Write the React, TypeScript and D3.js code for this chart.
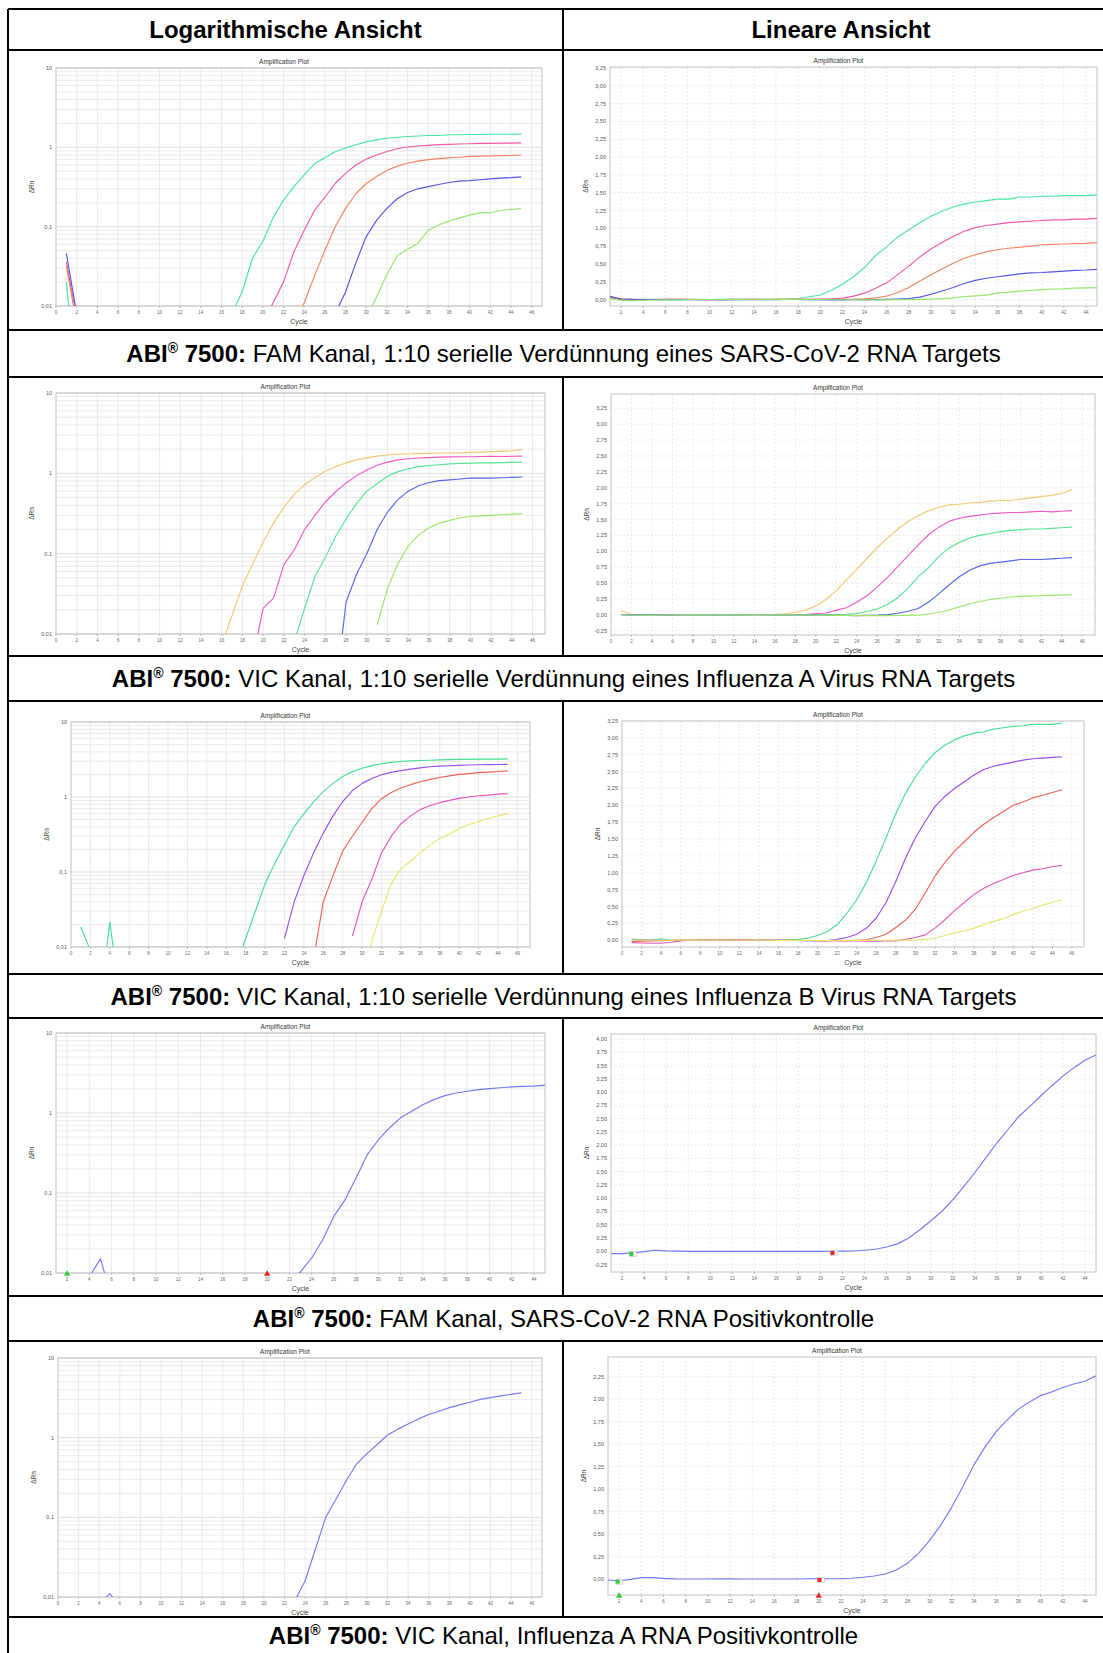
import { useRef, useEffect } from 'react';
import * as d3 from 'd3';

const cycles = [1, 2, 3, 4, 5, 6, 7, 8, 9, 10, 11, 12, 13, 14, 15, 16, 17, 18, 19, 20, 21, 22, 23, 24, 25, 26, 27, 28, 29, 30, 31, 32, 33, 34, 35, 36, 37, 38, 39, 40, 41, 42, 43, 44, 45];

const headers = ['Logarithmische Ansicht', 'Lineare Ansicht'];
const captions = [
  'FAM Kanal, 1:10 serielle Verdünnung eines SARS-CoV-2 RNA Targets',
  'VIC Kanal, 1:10 serielle Verdünnung eines Influenza A Virus RNA Targets',
  'VIC Kanal, 1:10 serielle Verdünnung eines Influenza B Virus RNA Targets',
  'FAM Kanal, SARS-CoV-2 RNA Positivkontrolle',
  'VIC Kanal, Influenza A RNA Positivkontrolle',
];

// SARS-CoV-2 dilution series (FAM), delta Rn per cycle
const sarsMint = [0.02, 0.001, 0.000, 0.001, 0.002, 0.001, 0.000, 0.001, 0.002, 0.001, 0.002, 0.002, 0.003, 0.003, 0.004, 0.005, 0.008, 0.015, 0.04, 0.065, 0.13, 0.215, 0.32, 0.45, 0.62, 0.74, 0.88, 0.98, 1.08, 1.17, 1.24, 1.30, 1.34, 1.37, 1.39, 1.41, 1.41, 1.44, 1.44, 1.45, 1.45, 1.46, 1.46, 1.46, 1.47];
const sarsPink = [0.036, 0.007, 0.002, 0.001, 0.001, 0.002, 0.004, 0.003, 0.001, 0.000, 0.001, 0.002, 0.002, 0.003, 0.002, 0.003, 0.004, 0.005, 0.005, 0.006, 0.011, 0.02, 0.048, 0.09, 0.16, 0.235, 0.35, 0.47, 0.6, 0.71, 0.8, 0.885, 0.96, 1.01, 1.04, 1.06, 1.08, 1.09, 1.10, 1.11, 1.12, 1.12, 1.13, 1.13, 1.14];
const sarsOrange = [0.032, 0.006, 0.002, 0.002, 0.001, 0.002, 0.005, 0.003, 0.000, -0.002, -0.001, 0.000, 0.001, 0.002, 0.001, 0.002, 0.003, 0.003, 0.004, 0.004, 0.005, 0.005, 0.006, 0.011, 0.024, 0.05, 0.1, 0.17, 0.26, 0.35, 0.43, 0.51, 0.58, 0.63, 0.67, 0.70, 0.72, 0.735, 0.75, 0.77, 0.775, 0.78, 0.785, 0.79, 0.80];
const sarsBlue = [0.046, 0.008, 0.002, 0.001, 0.000, -0.001, -0.001, -0.002, -0.002, -0.002, -0.003, -0.002, -0.002, -0.001, -0.001, 0.000, 0.001, 0.001, 0.000, -0.002, -0.003, -0.003, -0.002, -0.002, 0.000, 0.003, 0.008, 0.015, 0.035, 0.075, 0.12, 0.17, 0.225, 0.27, 0.30, 0.32, 0.34, 0.36, 0.375, 0.38, 0.39, 0.40, 0.41, 0.415, 0.425];
const sarsLime = [0.012, -0.012, -0.015, -0.01, -0.006, -0.004, -0.002, 0.000, 0.001, 0.001, 0.000, 0.000, 0.001, 0.001, 0.002, 0.002, 0.002, 0.001, 0.000, -0.001, -0.002, -0.002, -0.002, -0.003, -0.003, -0.003, -0.002, -0.001, 0.002, 0.007, 0.013, 0.025, 0.043, 0.052, 0.062, 0.09, 0.105, 0.118, 0.128, 0.14, 0.149, 0.15, 0.16, 0.165, 0.168];

// Influenza A dilution series (VIC)
const fluAYellow = [0.065, 0.004, 0.002, 0.001, 0.000, 0.000, 0.001, 0.002, 0.001, 0.000, 0.001, 0.001, 0.002, 0.002, 0.004, 0.0075, 0.017, 0.04, 0.075, 0.14, 0.24, 0.38, 0.55, 0.72, 0.89, 1.06, 1.21, 1.35, 1.47, 1.56, 1.64, 1.69, 1.73, 1.74, 1.76, 1.77, 1.79, 1.80, 1.80, 1.82, 1.84, 1.86, 1.88, 1.91, 1.97];
const fluAPink = [0.000, -0.002, -0.003, -0.002, -0.001, 0.000, 0.001, 0.000, -0.001, 0.001, 0.003, 0.004, 0.002, 0.001, 0.000, 0.001, 0.002, 0.003, 0.005, 0.021, 0.028, 0.073, 0.112, 0.2, 0.3, 0.44, 0.59, 0.76, 0.93, 1.1, 1.26, 1.38, 1.47, 1.52, 1.55, 1.57, 1.59, 1.60, 1.61, 1.61, 1.62, 1.63, 1.62, 1.63, 1.64];
const fluAGreen = [0.004, 0.002, 0.001, 0.000, 0.000, 0.001, 0.001, 0.000, -0.001, -0.001, 0.000, 0.000, 0.001, 0.001, 0.000, -0.001, 0.000, 0.001, 0.002, 0.002, 0.003, 0.004, 0.008, 0.021, 0.052, 0.09, 0.165, 0.27, 0.42, 0.6, 0.74, 0.92, 1.05, 1.14, 1.21, 1.25, 1.28, 1.31, 1.33, 1.34, 1.35, 1.35, 1.36, 1.37, 1.38];
const fluABlue = [0.000, -0.002, -0.002, -0.001, -0.001, 0.000, 0.000, 0.001, 0.000, -0.001, -0.001, 0.000, 0.000, 0.001, 0.001, 0.000, -0.002, -0.003, -0.004, -0.005, -0.006, -0.008, -0.010, -0.012, -0.010, -0.006, 0.002, 0.025, 0.055, 0.1, 0.2, 0.33, 0.47, 0.6, 0.7, 0.77, 0.81, 0.83, 0.85, 0.87, 0.87, 0.87, 0.88, 0.89, 0.90];
const fluALime = [0.000, -0.003, -0.004, -0.004, -0.003, -0.002, -0.001, 0.000, 0.000, -0.001, -0.001, -0.002, -0.002, -0.001, 0.000, -0.001, -0.002, -0.003, -0.004, -0.005, -0.006, -0.008, -0.010, -0.012, -0.013, -0.014, -0.013, -0.011, -0.008, -0.004, 0.013, 0.037, 0.075, 0.125, 0.17, 0.21, 0.24, 0.26, 0.28, 0.29, 0.295, 0.30, 0.305, 0.31, 0.315];

// Influenza B dilution series (VIC)
const fluBGreen = [0.0185, 0.009, 0.002, 0.0215, 0.0024, 0.001, 0.002, 0.003, 0.003, 0.002, 0.001, 0.001, 0.002, 0.002, 0.003, 0.004, 0.005, 0.013, 0.03, 0.07, 0.13, 0.23, 0.4, 0.6, 0.86, 1.18, 1.52, 1.88, 2.18, 2.42, 2.62, 2.78, 2.89, 2.97, 3.03, 3.07, 3.09, 3.13, 3.15, 3.17, 3.18, 3.2, 3.2, 3.2, 3.22];
const fluBPurple = [0.004, 0.002, 0.000, -0.002, -0.003, -0.002, -0.001, 0.000, 0.001, 0.001, 0.000, 0.000, 0.001, 0.000, -0.001, -0.002, -0.003, -0.004, -0.005, -0.006, -0.005, 0.013, 0.04, 0.09, 0.18, 0.33, 0.56, 0.87, 1.22, 1.52, 1.76, 1.98, 2.13, 2.25, 2.35, 2.45, 2.53, 2.58, 2.61, 2.64, 2.67, 2.69, 2.7, 2.71, 2.72];
const fluBRed = [-0.02, -0.012, -0.01, -0.006, -0.003, 0.000, 0.001, 0.002, 0.002, 0.001, 0.001, 0.002, 0.001, 0.000, 0.000, -0.001, -0.002, -0.003, -0.004, -0.005, -0.006, -0.007, -0.006, -0.002, 0.007, 0.04, 0.09, 0.19, 0.3, 0.46, 0.7, 0.95, 1.15, 1.32, 1.46, 1.6, 1.72, 1.82, 1.91, 2.0, 2.05, 2.11, 2.15, 2.19, 2.23];
const fluBMagenta = [-0.035, -0.04, -0.045, -0.045, -0.03, -0.01, 0.000, 0.001, 0.001, 0.000, 0.000, 0.001, 0.000, 0.000, 0.000, -0.001, -0.002, -0.004, -0.005, -0.006, -0.007, -0.008, -0.009, -0.01, -0.012, -0.012, -0.011, -0.01, 0.014, 0.04, 0.08, 0.18, 0.3, 0.44, 0.56, 0.68, 0.77, 0.84, 0.9, 0.96, 1.0, 1.04, 1.06, 1.09, 1.11];
const fluBYellow = [0.002, 0.001, 0.000, 0.000, 0.001, 0.001, 0.002, 0.002, 0.001, 0.001, 0.000, 0.000, 0.001, 0.001, 0.000, -0.001, -0.001, -0.002, -0.002, -0.003, -0.003, -0.002, -0.002, -0.001, -0.001, 0.000, 0.000, 0.001, 0.002, 0.004, 0.012, 0.03, 0.07, 0.11, 0.14, 0.18, 0.23, 0.28, 0.32, 0.38, 0.43, 0.47, 0.52, 0.56, 0.6];

// positive controls (log and linear screenshots come from separate runs)
const famPcLog = [-0.04, -0.04, -0.03, 0.009, 0.015, 0.005, 0.003, 0.002, 0.002, 0.001, 0.001, 0.001, 0.002, 0.002, 0.001, 0.001, 0.002, 0.002, 0.003, 0.004, 0.006, 0.008, 0.0103, 0.0154, 0.026, 0.051, 0.082, 0.154, 0.3, 0.46, 0.65, 0.87, 1.05, 1.27, 1.47, 1.65, 1.78, 1.87, 1.96, 2.02, 2.07, 2.12, 2.15, 2.17, 2.23];
const famPcLin = [-0.044, -0.044, -0.03, -0.006, 0.019, 0.008, 0.002, 0.0, -0.002, -0.002, -0.001, -0.001, -0.001, -0.001, -0.001, -0.001, -0.001, -0.001, -0.001, 0.0, 0.001, 0.002, 0.005, 0.02, 0.038, 0.08, 0.14, 0.25, 0.4, 0.57, 0.75, 0.97, 1.22, 1.48, 1.76, 2.04, 2.29, 2.54, 2.73, 2.93, 3.12, 3.3, 3.46, 3.6, 3.7];
const vicPcLog = [-0.011, -0.022, -0.004, 0.008, 0.011, 0.008, 0.004, 0.002, 0.001, 0.001, 0.002, 0.002, 0.001, 0.001, 0.001, 0.001, 0.002, 0.002, 0.002, 0.003, 0.004, 0.005, 0.009, 0.016, 0.04, 0.1, 0.17, 0.29, 0.47, 0.63, 0.82, 1.08, 1.28, 1.48, 1.72, 1.95, 2.15, 2.38, 2.58, 2.78, 3.02, 3.18, 3.35, 3.5, 3.65];
const vicPcLin = [-0.011, -0.022, -0.004, 0.015, 0.015, 0.007, 0.002, 0.0, 0.0, 0.0, 0.001, 0.001, 0.0, 0.0, 0.0, 0.0, 0.0, 0.0, 0.003, 0.004, 0.003, 0.004, 0.008, 0.019, 0.033, 0.056, 0.1, 0.174, 0.285, 0.43, 0.6, 0.8, 1.03, 1.27, 1.47, 1.64, 1.77, 1.89, 1.97, 2.04, 2.08, 2.13, 2.17, 2.2, 2.26];

// baseline start / threshold markers
const famPcLogMarkers = [{ cycle: 2, kind: 'tri', start: true }, { cycle: 20, kind: 'tri', start: false }];
const famPcLinMarkers = [{ cycle: 2.85, value: -0.05, kind: 'sq', start: true }, { cycle: 21.1, value: -0.03, kind: 'sq', start: false }];
const vicPcLinMarkers = [
  { cycle: 1.88, value: -0.03, kind: 'sq', start: true }, { cycle: 20.07, value: -0.011, kind: 'sq', start: false },
  { cycle: 2, kind: 'tri', start: true }, { cycle: 20, kind: 'tri', start: false },
];

const logYTicks = [0.01, 0.1, 1, 10];
const xTicksFrom0 = d3.range(0, 47, 2);
const xTicksFrom2 = d3.range(2, 45, 2);
const linTicks325 = d3.range(0, 3.26, 0.25);
const linTicksNeg325 = d3.range(-0.25, 3.26, 0.25);
const linTicksNeg400 = d3.range(-0.25, 4.01, 0.25);
const linTicks225 = d3.range(0, 2.26, 0.25);

const sarsColors = ['#48e6a0', '#f258a6', '#f5845f', '#5555e6', '#92e66a'];
const fluAColors = ['#f3c872', '#f258c8', '#55e590', '#5468e8', '#9ce666'];
const fluBColors = ['#4ade94', '#974ff0', '#f36058', '#e456b9', '#e6e670'];
const pcColor = '#7279f3';

const FONT = '"Liberation Sans", Arial, sans-serif';
const W = 1103;
const H = 1653;
const tableLeft = 8;
const tableMid = 563;
const tableRight = 1119;
const tableTop = 9;
const headerBottom = 50;
// [plot row top, plot row bottom, caption bottom]
const rows = [[50, 330, 377], [377, 656, 701], [701, 974, 1018], [1018, 1296, 1341], [1341, 1617, 1670]];

const panels = [
  { left: 56, right: 542, top: 68, bottom: 306, log: true, xDomain: [0, 47], xTicks: xTicksFrom0, series: [sarsMint, sarsPink, sarsOrange, sarsBlue, sarsLime], colors: sarsColors },
  { left: 610, right: 1097, top: 67, bottom: 306, log: false, xDomain: [1, 45], yDomain: [-0.09, 3.265], xTicks: xTicksFrom2, yTicks: linTicks325, series: [sarsMint, sarsPink, sarsOrange, sarsBlue, sarsLime], colors: sarsColors },
  { left: 56, right: 545, top: 393, bottom: 634, log: true, dot: true, fromCycle: 2, xDomain: [0, 47.2], xTicks: xTicksFrom0, series: [fluAYellow, fluAPink, fluAGreen, fluABlue, fluALime], colors: fluAColors },
  { left: 611, right: 1095, top: 394, bottom: 635, log: false, xDomain: [0, 47.25], yDomain: [-0.318, 3.476], xTicks: xTicksFrom0, yTicks: linTicksNeg325, series: [fluAYellow, fluAPink, fluAGreen, fluABlue, fluALime], colors: fluAColors },
  { left: 71, right: 530, top: 722, bottom: 947, log: true, xDomain: [0, 47.3], xTicks: xTicksFrom0, series: [fluBGreen, fluBPurple, fluBRed, fluBMagenta, fluBYellow], colors: fluBColors },
  { left: 622, right: 1084, top: 721, bottom: 947, log: false, xDomain: [0, 47.24], yDomain: [-0.1, 3.25], xTicks: xTicksFrom0, yTicks: linTicks325, series: [fluBGreen, fluBPurple, fluBRed, fluBMagenta, fluBYellow], colors: fluBColors },
  { left: 56, right: 545, top: 1033, bottom: 1273, log: true, xDomain: [1, 45], xTicks: xTicksFrom2, series: [famPcLog], colors: [pcColor], markers: famPcLogMarkers },
  { left: 611, right: 1096, top: 1034, bottom: 1272, log: false, xDomain: [1, 45], yDomain: [-0.39, 4.094], xTicks: xTicksFrom2, yTicks: linTicksNeg400, series: [famPcLin], colors: [pcColor], markers: famPcLinMarkers },
  { left: 58, right: 542, top: 1358, bottom: 1597, log: true, xDomain: [0, 47], xTicks: xTicksFrom0, series: [vicPcLog], colors: [pcColor] },
  { left: 608, right: 1096, top: 1357, bottom: 1595, log: false, xDomain: [1, 45], yDomain: [-0.178, 2.47], xTicks: xTicksFrom2, yTicks: linTicks225, series: [vicPcLin], colors: [pcColor], markers: vicPcLinMarkers },
];

const fmtLin = (v: number) => d3.format('.2f')(v).replace('−', '-').replace('.', ',');

const drawPanel = (svg: any, p: any, i: number) => {
  const g = svg.append('g').attr('font-family', FONT);
  const x = d3.scaleLinear().domain(p.xDomain).range([p.left, p.right]);
  const y: any = p.log
    ? d3.scaleLog().domain([0.01, 10]).range([p.bottom, p.top])
    : d3.scaleLinear().domain(p.yDomain).range([p.bottom, p.top]);

  g.append('rect')
    .attr('x', p.left).attr('y', p.top)
    .attr('width', p.right - p.left).attr('height', p.bottom - p.top)
    .attr('fill', '#fff');

  // grid
  const gridY = p.log ? y.ticks() : p.yTicks;
  g.append('g').selectAll('line')
    .data(gridY)
    .join('line')
    .attr('x1', p.left).attr('x2', p.right)
    .attr('y1', (d: number) => y(d)).attr('y2', (d: number) => y(d))
    .attr('stroke', (d: number) => (p.log && logYTicks.includes(d) ? '#d4d4d4' : '#e6e6e6'))
    .attr('stroke-width', 0.8)
    .attr('stroke-dasharray', p.log ? null : '2,2');

  g.append('g').selectAll('line')
    .data(p.xTicks.filter((c: number) => x(c) > p.left + 1 && x(c) < p.right - 1))
    .join('line')
    .attr('x1', (d: number) => x(d)).attr('x2', (d: number) => x(d))
    .attr('y1', p.top).attr('y2', p.bottom)
    .attr('stroke', '#e4e4e4')
    .attr('stroke-width', 0.8)
    .attr('stroke-dasharray', p.log ? null : '2,2');

  g.append('rect')
    .attr('x', p.left).attr('y', p.top)
    .attr('width', p.right - p.left).attr('height', p.bottom - p.top)
    .attr('fill', 'none').attr('stroke', '#c2c2c2').attr('stroke-width', 1);

  // title and axis labels
  g.append('text')
    .attr('x', (p.left + p.right) / 2 - 15).attr('y', p.top - 4)
    .attr('text-anchor', 'middle').attr('font-size', 6.5).attr('fill', '#333')
    .text('Amplification Plot');
  g.append('text')
    .attr('x', (p.left + p.right) / 2).attr('y', p.bottom + 18)
    .attr('text-anchor', 'middle').attr('font-size', 7).attr('fill', '#444')
    .text('Cycle');
  g.append('text')
    .attr('transform', `translate(${p.left - 22},${(p.top + p.bottom) / 2}) rotate(-90)`)
    .attr('text-anchor', 'middle').attr('font-size', 6.5).attr('fill', '#444')
    .text('ΔRn');

  // ticks
  g.append('g').selectAll('text')
    .data(p.xTicks)
    .join('text')
    .attr('x', (d: number) => x(d)).attr('y', p.bottom + 8)
    .attr('text-anchor', 'middle').attr('font-size', 4.5).attr('fill', '#666')
    .text((d: number) => d);
  g.append('g').selectAll('line')
    .data(p.xTicks)
    .join('line')
    .attr('x1', (d: number) => x(d)).attr('x2', (d: number) => x(d))
    .attr('y1', p.bottom).attr('y2', p.bottom + 2)
    .attr('stroke', '#999').attr('stroke-width', 0.6);

  const yTicks = p.log ? logYTicks : p.yTicks;
  g.append('g').selectAll('text')
    .data(yTicks)
    .join('text')
    .attr('x', p.left - 4).attr('y', (d: number) => y(d) + 2)
    .attr('text-anchor', 'end').attr('font-size', 5.5).attr('fill', '#555')
    .text((d: number) => (p.log ? (p.dot ? String(d) : String(d).replace('.', ',')) : fmtLin(d)));

  // curves
  const clipId = `plot-clip-${i}`;
  svg.append('defs').append('clipPath').attr('id', clipId)
    .append('rect')
    .attr('x', p.left).attr('y', p.top)
    .attr('width', p.right - p.left).attr('height', p.bottom - p.top);

  const line = d3.line<[number, number]>()
    .defined(d => !p.log || d[1] > 0)
    .x(d => x(d[0]))
    .y(d => y(d[1]));

  p.series.forEach((vals: number[], k: number) => {
    const pts = cycles
      .map((c, j) => [c, vals[j]] as [number, number])
      .filter(d => d[0] >= (p.fromCycle ?? 1));
    g.append('path')
      .attr('clip-path', `url(#${clipId})`)
      .attr('d', line(pts))
      .attr('fill', 'none')
      .attr('stroke', p.colors[k])
      .attr('stroke-width', 1.15)
      .attr('stroke-linejoin', 'round');
  });

  // markers
  (p.markers || []).forEach((m: any) => {
    const col = m.start ? '#2ccf2c' : '#e62424';
    if (m.kind === 'tri') {
      g.append('path')
        .attr('d', d3.symbol(d3.symbolTriangle).size(18)())
        .attr('transform', `translate(${x(m.cycle)},${p.bottom + 1})`)
        .attr('fill', col);
    } else {
      g.append('rect')
        .attr('x', x(m.cycle) - 2).attr('y', y(m.value) - 2.5)
        .attr('width', 7).attr('height', 5)
        .attr('fill', '#fff').attr('stroke', '#bbb').attr('stroke-width', 0.6);
      g.append('rect')
        .attr('x', x(m.cycle) - 2).attr('y', y(m.value) - 2)
        .attr('width', 4).attr('height', 4)
        .attr('fill', col);
    }
  });
};

const App = () => {
  const svgRef = useRef<SVGSVGElement | null>(null);

  useEffect(() => {
    const svg = d3.select(svgRef.current);
    svg.selectAll('*').remove();

    svg.append('rect').attr('width', W).attr('height', H).attr('fill', '#fff');

    panels.forEach((p, i) => drawPanel(svg, p, i));

    // table rules
    const rules = svg.append('g').attr('stroke', '#000').attr('stroke-width', 2);
    const hLines = [tableTop, headerBottom, ...rows.flatMap(r => [r[1], r[2]])];
    rules.selectAll('line.h')
      .data(hLines)
      .join('line')
      .attr('class', 'h')
      .attr('x1', tableLeft).attr('x2', tableRight)
      .attr('y1', d => d).attr('y2', d => d);
    rules.append('line')
      .attr('x1', tableLeft).attr('x2', tableLeft)
      .attr('y1', tableTop).attr('y2', H + 10);
    const midSpans = [[tableTop, headerBottom], ...rows.map(r => [r[0], r[1]])];
    rules.selectAll('line.v')
      .data(midSpans)
      .join('line')
      .attr('class', 'v')
      .attr('x1', tableMid).attr('x2', tableMid)
      .attr('y1', d => d[0]).attr('y2', d => d[1]);

    // headers
    svg.append('g').selectAll('text')
      .data(headers)
      .join('text')
      .attr('x', (d, i) => (i === 0 ? (tableLeft + tableMid) / 2 : (tableMid + tableRight) / 2))
      .attr('y', (tableTop + headerBottom) / 2 + 8.5)
      .attr('text-anchor', 'middle')
      .attr('font-family', FONT)
      .attr('font-weight', 'bold')
      .attr('font-size', 24)
      .text(d => d);

    // captions
    captions.forEach((c, i) => {
      const r = rows[i];
      const bottom = Math.min(r[2], H);
      const t = svg.append('text')
        .attr('x', (tableLeft + tableRight) / 2)
        .attr('y', (r[1] + bottom) / 2 + 8.5)
        .attr('text-anchor', 'middle')
        .attr('font-family', FONT)
        .attr('font-size', 24)
        .attr('fill', '#000');
      t.append('tspan').attr('font-weight', 'bold').text('ABI');
      t.append('tspan').attr('font-weight', 'bold').attr('font-size', 14).attr('dy', -9).text('®');
      t.append('tspan').attr('font-weight', 'bold').attr('dy', 9).text(' 7500:');
      t.append('tspan').text(' ' + c);
    });
  }, []);

  return (
    <svg
      ref={svgRef}
      width={W}
      height={H}
      style={{ position: 'absolute', left: 0, top: 0, display: 'block' }}
    />
  );
};

export default App;
